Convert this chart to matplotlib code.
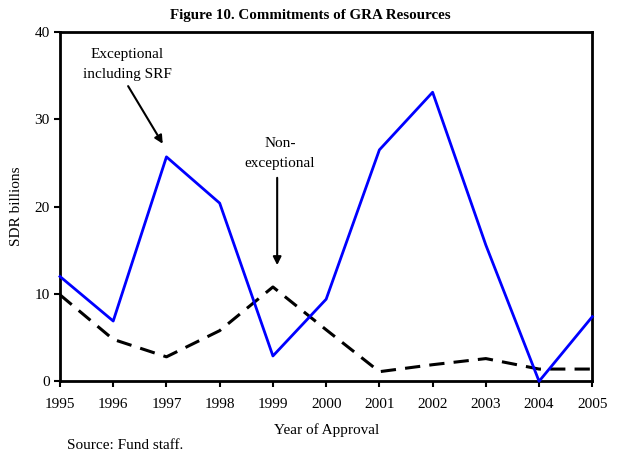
import matplotlib
matplotlib.use("Agg")
import matplotlib.pyplot as plt

plt.rcParams['font.family'] = ['Liberation Serif', 'DejaVu Serif']

# data
years = [1995, 1996, 1997, 1998, 1999, 2000, 2001, 2002, 2003, 2004, 2005]
exceptional = [12.0, 6.9, 25.7, 20.4, 2.9, 9.4, 26.5, 33.1, 15.6, 0.0, 7.4]
non_exceptional = [9.9, 4.8, 2.8, 5.8, 10.8, 5.9, 1.1, 1.9, 2.6, 1.4, 1.4]
yticks = [0, 10, 20, 30, 40]

fig = plt.figure(figsize=(6.21, 4.55), dpi=100)
ax = fig.add_axes([0.0966, 0.162, 0.8572, 0.7677])

ax.plot(years, exceptional, color='#0000ff', lw=2.0, clip_on=False, zorder=3)
ax.plot(years, non_exceptional, color='black', lw=2.2, dashes=(5, 3),
        clip_on=False, zorder=2)

ax.set_xlim(1995, 2005)
ax.set_ylim(0, 40)
ax.set_xticks(years)
ax.set_yticks(yticks)
ax.tick_params(axis='both', labelsize=11, direction='out', length=4,
               width=1.5, color='black')
ax.tick_params(axis='x', pad=8)
for s in ax.spines.values():
    s.set_linewidth(2)
    s.set_color('black')

ax.set_ylabel('SDR billions', fontsize=11, labelpad=8)
ax.set_xlabel('Year of Approval', fontsize=11, labelpad=9)
fig.text(0.5, 0.967, 'Figure 10. Commitments of GRA Resources',
         ha='center', va='center', fontsize=10.8, fontweight='bold')
fig.text(0.108, 0.0198, 'Source: Fund staff.', ha='left', va='center',
         fontsize=11)

# annotations: text and arrows placed separately
ax.text(1996.26, 36.3, 'Exceptional\nincluding SRF', ha='center',
        va='center', fontsize=11, linespacing=1.65)
ax.annotate('', xy=(1996.93, 27.2), xytext=(1996.28, 33.8),
            arrowprops=dict(arrowstyle='-|>', color='black', lw=1.5,
                            shrinkA=0, shrinkB=0, mutation_scale=12))
ax.text(1999.13, 26.1, 'Non-\nexceptional', ha='center', va='center',
        fontsize=11, linespacing=1.65)
ax.annotate('', xy=(1999.08, 13.3), xytext=(1999.08, 23.3),
            arrowprops=dict(arrowstyle='-|>', color='black', lw=1.5,
                            shrinkA=0, shrinkB=0, mutation_scale=12))

fig.savefig('out.png', dpi=100)
